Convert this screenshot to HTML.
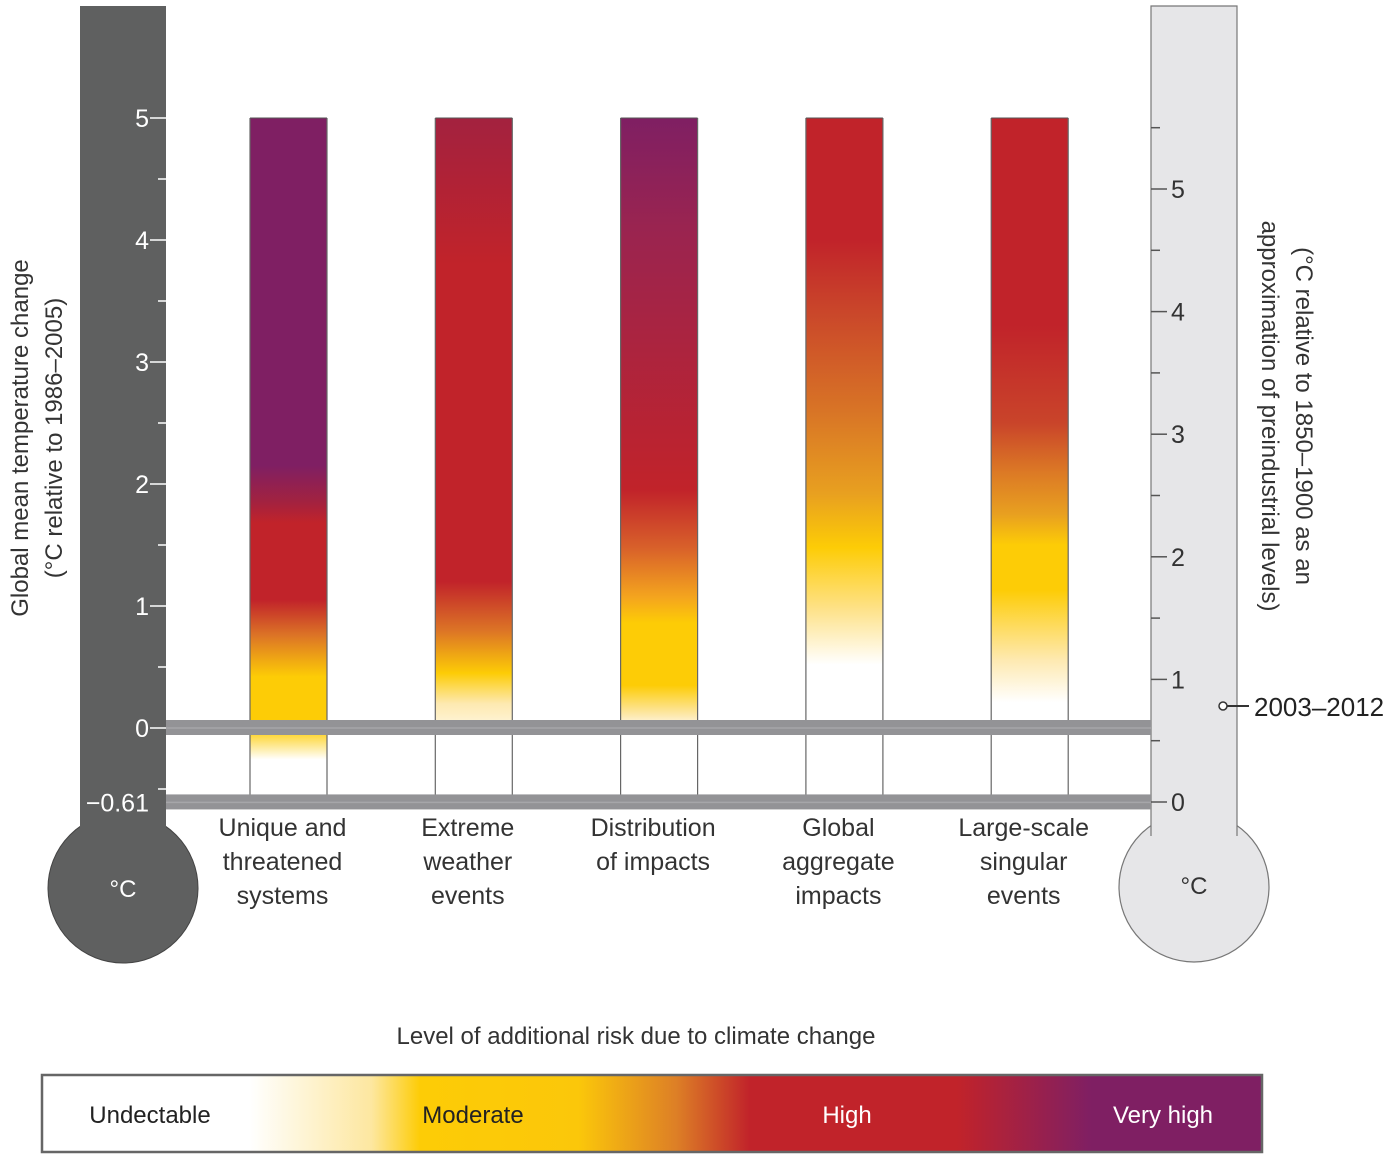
<!DOCTYPE html>
<html><head><meta charset="utf-8"><style>
html,body{margin:0;padding:0;background:#fff;}
svg{display:block;font-family:"Liberation Sans","DejaVu Sans",sans-serif;}
</style></head><body>
<svg id="chart" width="1395" height="1160" viewBox="0 0 1395 1160">
<defs id="defs">
  <linearGradient id="legend-grad" x1="0" x2="1" y1="0" y2="0">
    <stop offset="0.17" stop-color="#ffffff"/>
    <stop offset="0.27" stop-color="#fde7a0"/>
    <stop offset="0.31" stop-color="#fdcc06"/>
    <stop offset="0.44" stop-color="#fbc70a"/>
    <stop offset="0.52" stop-color="#dd7f26"/>
    <stop offset="0.58" stop-color="#c1232a"/>
    <stop offset="0.75" stop-color="#c1232a"/>
    <stop offset="0.86" stop-color="#7f1f63"/>
    <stop offset="1" stop-color="#7f1f63"/>
  </linearGradient>
</defs>
<!-- Left thermometer -->
<g>
  <circle cx="123" cy="888" r="75" fill="#5f6060" stroke="#444" stroke-width="1"/>
  <rect x="80" y="6" width="86" height="835" fill="#5f6060"/>
  <text x="123" y="897" fill="#fff" font-size="24" text-anchor="middle">°C</text>
</g>
<!-- Right thermometer -->
<g>
  <circle cx="1194" cy="887" r="75" fill="#e6e6e8" stroke="#777" stroke-width="1.2"/>
  <rect x="1151" y="6" width="86" height="835" fill="#e6e6e8"/>
  <path d="M1151,836 L1151,6 L1237,6 L1237,836" fill="none" stroke="#777" stroke-width="1.2"/>
  <text x="1194" y="894" fill="#333" font-size="24" text-anchor="middle">°C</text>
</g>
<g id="axes"></g>
<g id="bars"></g>
<g id="bands"></g>
<g id="labels"></g>
<!-- axis titles -->
<text transform="translate(28,438) rotate(-90)" font-size="24" fill="#333" text-anchor="middle">Global mean temperature change</text>
<text transform="translate(62,438) rotate(-90)" font-size="24" fill="#333" text-anchor="middle">(°C relative to 1986–2005)</text>
<text transform="translate(1296,416) rotate(90)" font-size="24" fill="#333" text-anchor="middle">(°C relative to 1850–1900 as an</text>
<text transform="translate(1262,416) rotate(90)" font-size="24" fill="#333" text-anchor="middle">approximation of preindustrial levels)</text>
<!-- 2003-2012 marker -->
<g>
  <circle cx="1223" cy="706" r="4" fill="#fff" stroke="#333" stroke-width="1.5"/>
  <line x1="1227" y1="706" x2="1249" y2="706" stroke="#333" stroke-width="2"/>
  <text x="1254" y="716" font-size="26" fill="#222">2003–2012</text>
</g>
<!-- legend -->
<text x="636" y="1044" font-size="24" fill="#333" text-anchor="middle">Level of additional risk due to climate change</text>
<g>
  <rect x="42" y="1075" width="1220" height="77" fill="url(#legend-grad)" stroke="#666" stroke-width="2.5"/>
  <text x="150" y="1123" font-size="24" fill="#222" text-anchor="middle">Undectable</text>
  <text x="473" y="1123" font-size="24" fill="#222" text-anchor="middle">Moderate</text>
  <text x="847" y="1123" font-size="24" fill="#fff" text-anchor="middle">High</text>
  <text x="1163" y="1123" font-size="24" fill="#fff" text-anchor="middle">Very high</text>
</g>
<script>
var categories = [["Unique and","threatened","systems"],["Extreme","weather","events"],["Distribution","of impacts"],["Global","aggregate","impacts"],["Large-scale","singular","events"]];
var barTop = [5,5,5,5,5];
// gradient stops: temperature values (°C rel. 1986-2005) and colours
var stopTemps = [
  [5,2.15,1.85,1.68,1.05,0.76,0.42,0,-0.26],
  [5,3.8,1.2,0.8,0.45,0.2,0.0,-0.05],
  [5,4.1,1.95,1.48,1.07,0.86,0.35,0.1,-0.02],
  [5,4.0,3.45,2.6,1.92,1.48,0.97,0.52],
  [5,3.3,2.5,2.09,1.75,1.5,1.13,0.56,0.21]
];
var stopColors = [
  ["#7f1f63","#7f1f63","#a3223f","#c1232a","#c1232a","#dc7426","#fdcc06","#fdcc06","#ffffff"],
  ["#a3223f","#c1232a","#c1232a","#dc7426","#fdcc06","#fde9b0","#fff6dd","#ffffff"],
  ["#7f1f63","#9a2450","#c1232a","#d8602a","#f4a51e","#fdcc06","#fdcc06","#fde9b0","#ffffff"],
  ["#c1232a","#c1232a","#c9442a","#d87426","#e8a020","#fdcc06","#fee28a","#ffffff"],
  ["#c1232a","#c1232a","#c9442a","#dc7a25","#e8a020","#fdcc06","#fdcc06","#fee9b0","#ffffff"]
];
var leftTicks = [5,4,3,2,1,0];
var rightTicks = [5,4,3,2,1,0];
var bandValues = [0,-0.61];

var NS="http://www.w3.org/2000/svg";
function yL(v){return 728 - v*122;}
function yR(v){return 802 - v*122.6;}
var barX0=250, barStep=185.3, barW=77;
function xBar(i){return barX0 + i*barStep;}
function mk(tag,attrs,parent){var e=document.createElementNS(NS,tag);for(var k in attrs)e.setAttribute(k,attrs[k]);parent.appendChild(e);return e;}

var axes=document.getElementById('axes');
for(var t=-0.5;t<=5;t+=0.5){
  var e=mk('line',{x1:t%1===0?150:158,x2:166,y1:yL(t),y2:yL(t),stroke:'#fff','stroke-width':1.5},axes);
  
  
}
leftTicks.forEach(function(v){
  var e=mk('text',{x:149,y:yL(v)+9,fill:'#fff','font-size':25,'text-anchor':'end'},axes);
  e.textContent=String(v);
  
  
});
var e=mk('text',{x:149,y:yL(-0.61)+9,fill:'#fff','font-size':25,'text-anchor':'end'},axes);
e.textContent='−0.61';


for(var t=0;t<=5.5;t+=0.5){
  var e2=mk('line',{x1:1151,x2:t%1===0?1167:1160,y1:yR(t),y2:yR(t),stroke:'#555','stroke-width':1.5},axes);
  
  
}
rightTicks.forEach(function(v){
  var e=mk('text',{x:1171,y:yR(v)+9,fill:'#333','font-size':25},axes);
  e.textContent=String(v);
  
  
});

var defs=document.getElementById('defs');
var bars=document.getElementById('bars');
categories.forEach(function(c,i){
  var g=mk('linearGradient',{id:'g'+i,gradientUnits:'userSpaceOnUse',x1:0,x2:0,y1:yL(barTop[i]),y2:yL(-0.61)},defs);
  var span=yL(-0.61)-yL(barTop[i]);
  stopTemps[i].forEach(function(tv,j){
    mk('stop',{offset:((yL(tv)-yL(barTop[i]))/span).toFixed(4),'stop-color':stopColors[i][j]},g);
  });
  var x=xBar(i);
  var r=mk('rect',{x:x,y:yL(barTop[i]),width:barW,height:yL(-0.61)-yL(barTop[i]),fill:'url(#g'+i+')'},bars);
  
  
  var l1=mk('line',{x1:x,x2:x,y1:yL(barTop[i]),y2:yL(-0.61),stroke:'#666','stroke-width':1.2},bars);
  
  
  var l2=mk('line',{x1:x+barW,x2:x+barW,y1:yL(barTop[i]),y2:yL(-0.61),stroke:'#666','stroke-width':1.2},bars);
  
  
  var lt=mk('line',{x1:x,x2:x+barW,y1:yL(barTop[i]),y2:yL(barTop[i]),stroke:'#555','stroke-width':1},bars);
  
  
  var lab=document.getElementById('labels');
  c.forEach(function(s,k){
    var t=mk('text',{x:x+barW/2-6,y:836+k*34,'font-size':25,fill:'#333','text-anchor':'middle'},lab);
    t.textContent=s;
    
    
  });
});
var bands=document.getElementById('bands');
bandValues.forEach(function(v){
  var b=mk('rect',{x:166,y:yL(v)-8,width:985,height:15,fill:'#939396'},bands);
  
  
  var s=mk('line',{x1:166,x2:1151,y1:yL(v),y2:yL(v),stroke:'#a6a6a9','stroke-width':1.5},bands);
  
  
});
</script>
</svg>
</body></html>
